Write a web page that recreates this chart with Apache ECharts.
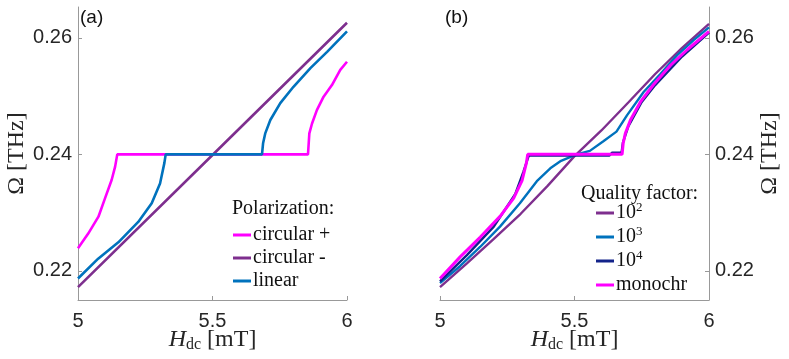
<!DOCTYPE html>
<html>
<head>
<meta charset="utf-8">
<script src="https://cdn.jsdelivr.net/npm/echarts@6/dist/echarts.min.js"></script>
<style>
  html, body { margin: 0; padding: 0; background: #fff; }
  #chart { width: 789px; height: 359px; }
</style>
</head>
<body>
<div id="chart"></div>
<script>
// panel (a) - polarization
const plusH = [5, 5.038, 5.076, 5.100, 5.125, 5.138, 5.146, 5.855, 5.860, 5.870, 5.888, 5.913, 5.944, 5.975, 6];
const plusW = [0.2239, 0.2264, 0.2293, 0.2324, 0.2356, 0.2379, 0.2400, 0.2400, 0.2436, 0.2453, 0.2476, 0.2499, 0.2519, 0.2545, 0.2559];
const minusH = [5, 5.5, 6];
const minusW = [0.2172, 0.2399, 0.2626];
const linH = [5, 5.075, 5.150, 5.224, 5.274, 5.305, 5.321, 5.326, 5.684, 5.688, 5.696, 5.715, 5.752, 5.801, 5.864, 5.926, 6];
const linW = [0.2187, 0.2221, 0.2249, 0.2284, 0.2316, 0.2350, 0.2385, 0.2400, 0.2400, 0.2419, 0.2436, 0.2459, 0.2488, 0.2516, 0.2548, 0.2576, 0.2611];

// panel (b) - quality factor
const q2H = [5, 5.1, 5.2, 5.3, 5.4, 5.5, 5.6, 5.7, 5.8, 5.9, 6];
const q2W = [0.2172, 0.2213, 0.2255, 0.2298, 0.2346, 0.2397, 0.2441, 0.2489, 0.2538, 0.2583, 0.2624];
const q3H = [5, 5.074, 5.149, 5.223, 5.297, 5.360, 5.410, 5.450, 5.508, 5.557, 5.606, 5.656, 5.695, 5.757, 5.819, 5.881, 5.943, 6];
const q3W = [0.2179, 0.2208, 0.2241, 0.2276, 0.2316, 0.2354, 0.2376, 0.2389, 0.2400, 0.2406, 0.2422, 0.2439, 0.2467, 0.2507, 0.2538, 0.2570, 0.2596, 0.2618];
const q4H = [5, 5.1, 5.2, 5.28, 5.31, 5.33, 5.63, 5.64, 5.675, 5.68, 5.7, 5.75, 5.8, 5.9, 6];
const q4W = [0.2182, 0.2227, 0.2276, 0.2332, 0.2370, 0.2398, 0.2398, 0.2403, 0.2403, 0.2420, 0.2448, 0.2490, 0.2519, 0.2568, 0.2609];
const monoH = [5, 5.075, 5.150, 5.224, 5.274, 5.305, 5.321, 5.326, 5.677, 5.681, 5.689, 5.708, 5.745, 5.794, 5.857, 5.920, 6];
const monoW = [0.2187, 0.2224, 0.2258, 0.2294, 0.2325, 0.2355, 0.2385, 0.2400, 0.2400, 0.2419, 0.2436, 0.2459, 0.2490, 0.2520, 0.2553, 0.2580, 0.2611];

const yTicks = [0.22, 0.24, 0.26];

const serif = "'Liberation Serif', 'DejaVu Serif', serif";
const sans = "'Liberation Sans', Arial, sans-serif";
const axisCol = "#999999";
const textCol = "#262626";

function pairs(h, w) {
  return h.map((x, i) => [x, w[i]]);
}

function line(name, h, w, color, width, axisIdx) {
  return {
    name: name,
    type: "line",
    xAxisIndex: axisIdx,
    yAxisIndex: axisIdx,
    data: pairs(h, w),
    symbol: "none",
    lineStyle: { color: color, width: width },
    itemStyle: { color: color },
    animation: false,
  };
}

function xAxisOf(grid) {
  return {
    type: "value",
    gridIndex: grid,
    min: 5,
    max: 6,
    interval: 0.5,
    name: "{i|H}{s|dc} [mT]",
    nameLocation: "middle",
    nameGap: 27,
    nameMoveOverlap: false,
    nameTextStyle: {
      fontFamily: serif,
      fontSize: 24,
      color: textCol,
      rich: {
        i: { fontFamily: serif, fontStyle: "italic", fontSize: 24, color: textCol },
        s: { fontFamily: serif, fontSize: 16, color: textCol, padding: [10, 0, 0, 0] },
      },
    },
    axisLine: { lineStyle: { color: axisCol, width: 1 } },
    axisTick: { inside: true, length: 4, lineStyle: { color: axisCol } },
    axisLabel: {
      fontFamily: sans,
      fontSize: 20,
      color: textCol,
      margin: 11,
      formatter: (v) => String(v),
    },
    splitLine: { show: false },
  };
}

function yAxisOf(grid, pos) {
  return {
    type: "value",
    gridIndex: grid,
    position: pos,
    min: 0.215,
    max: 0.2653,
    name: "Ω [THz]",
    nameLocation: "middle",
    nameRotate: 90,
    nameGap: grid === 0 ? 41 : 49,
    nameTextStyle: { fontFamily: serif, fontSize: 24, color: textCol },
    axisLine: { show: true, onZero: false, lineStyle: { color: axisCol, width: 1 } },
    axisTick: { inside: true, length: 4, customValues: yTicks, lineStyle: { color: axisCol } },
    axisLabel: {
      fontFamily: sans,
      fontSize: 20,
      color: textCol,
      margin: 6,
      customValues: yTicks,
      formatter: (v) => v.toFixed(2),
    },
    splitLine: { show: false },
  };
}

function legendText(lh) {
  return {
    fontFamily: serif,
    fontSize: 20,
    lineHeight: lh,
    color: "#111",
    padding: [0, 0, 0, -3],
    rich: {
      sup: { fontFamily: serif, fontSize: 13, lineHeight: 13, color: "#111", verticalAlign: "top" },
    },
  };
}

function label(text, left, top, font, size) {
  return {
    text: text,
    left: left,
    top: top,
    padding: 0,
    textStyle: { fontFamily: font, fontSize: size, fontWeight: "normal", color: "#111" },
  };
}

const chart = echarts.init(document.getElementById("chart"));

chart.setOption({
  animation: false,
  backgroundColor: "#fff",
  title: [
    label("(a)", 80, 8, sans, 19),
    label("(b)", 445, 8, sans, 19),
    label("Polarization:", 232, 199, serif, 20),
    label("Quality factor:", 581, 184, serif, 20),
  ],
  legend: [
    {
      data: ["circular +", "circular -", "linear"],
      orient: "vertical",
      left: 233,
      top: 225,
      icon: "rect",
      itemWidth: 18,
      itemHeight: 3,
      itemGap: 3,
      padding: 0,
      textStyle: legendText(20),
    },
    {
      data: ["10^2", "10^3", "10^4", "monochr"],
      orient: "vertical",
      left: 596,
      top: 201,
      icon: "rect",
      itemWidth: 18,
      itemHeight: 3,
      itemGap: 0,
      padding: 0,
      textStyle: legendText(24),
      formatter: (name) => name.replace(/\^(\d)/, "{sup|$1}"),
    },
  ],
  grid: [
    { left: 78, top: 7, width: 269, height: 293, outerBoundsMode: "none" },
    { left: 440, top: 7, width: 269, height: 293, outerBoundsMode: "none" },
  ],
  xAxis: [xAxisOf(0), xAxisOf(1)],
  yAxis: [yAxisOf(0, "left"), yAxisOf(1, "right")],
  series: [
    line("circular +", plusH, plusW, "#FF00FF", 2.6, 0),
    line("circular -", minusH, minusW, "#7E2F8E", 2.6, 0),
    line("linear", linH, linW, "#0072BD", 2.6, 0),
    line("10^2", q2H, q2W, "#7E2F8E", 2.4, 1),
    line("10^3", q3H, q3W, "#0072BD", 2.4, 1),
    line("10^4", q4H, q4W, "#13238A", 2.4, 1),
    line("monochr", monoH, monoW, "#FF00FF", 3, 1),
  ],
});
</script>
</body>
</html>
